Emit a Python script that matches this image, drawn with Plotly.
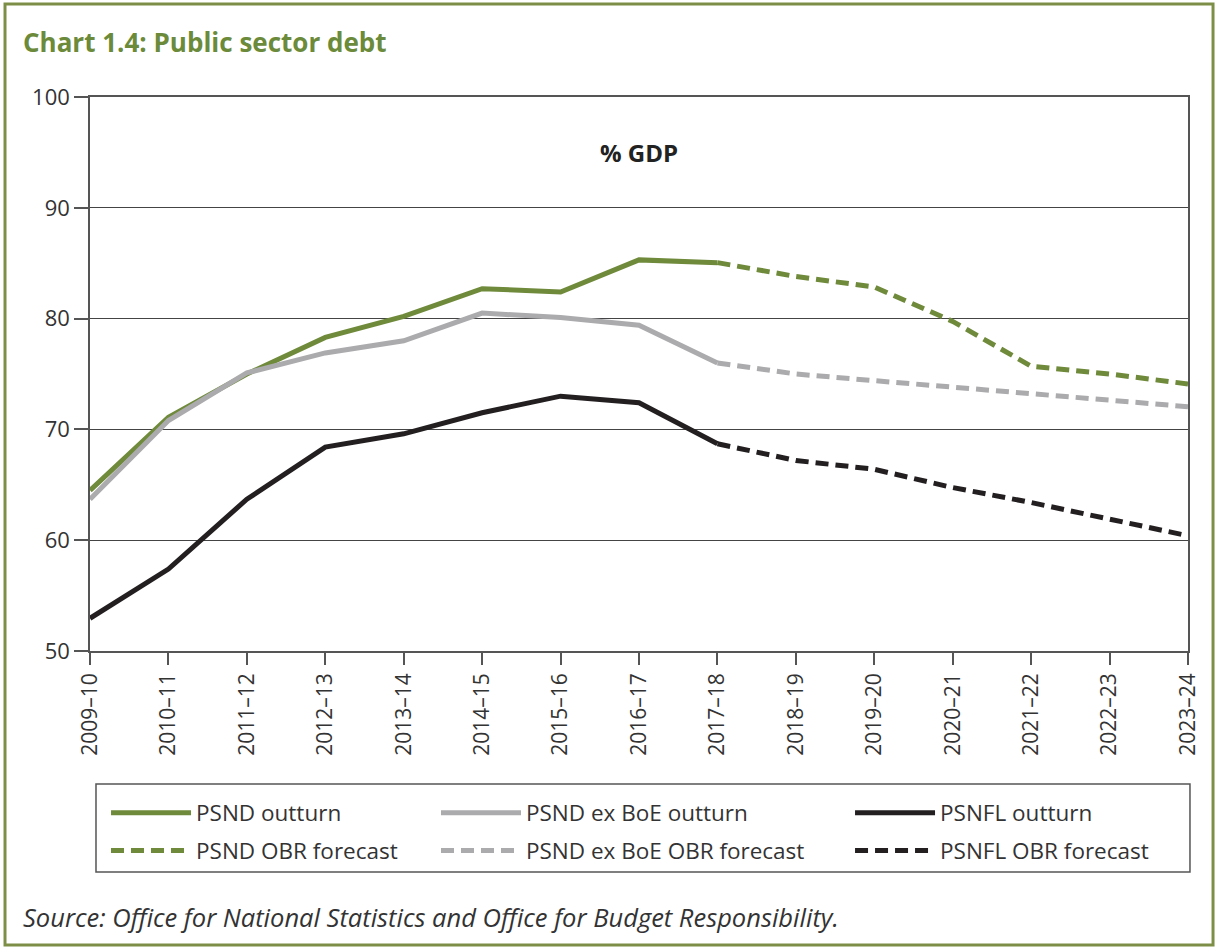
import plotly.graph_objects as go

years = ["2009–10", "2010–11", "2011–12", "2012–13", "2013–14", "2014–15", "2015–16",
         "2016–17", "2017–18", "2018–19", "2019–20", "2020–21", "2021–22", "2022–23", "2023–24"]

psnd = [64.5, 71.1, 75.0, 78.3, 80.2, 82.7, 82.4, 85.3, 85.05, 83.8, 82.85, 79.75, 75.7, 75.0, 74.1]
psnd_exboe = [63.7, 70.8, 75.1, 76.9, 78.0, 80.5, 80.1, 79.4, 76.0, 75.0, 74.4, 73.8, 73.3, 72.7, 72.05]
psnfl = [52.95, 57.4, 63.7, 68.4, 69.6, 71.5, 73.0, 72.4, 68.7, 67.2, 66.4, 64.75, 63.4, 61.9, 60.4]

split = 8  # index of 2017-18, first forecast year

GREEN = "#6F8A3A"
GREY = "#ABABAE"
BLACK = "#231F20"
FONT = "Open Sans"

fig = go.Figure()

series = [("PSND", psnd, GREEN), ("PSND ex BoE", psnd_exboe, GREY), ("PSNFL", psnfl, BLACK)]
legend_ids_out = ["legend", "legend2", "legend3"]
legend_ids_fc = ["legend4", "legend5", "legend6"]
for (name, vals, col), lg in zip(series, legend_ids_out):
    fig.add_trace(go.Scatter(
        x=years[:split + 1], y=vals[:split + 1], mode="lines",
        name=f"{name} outturn", line=dict(color=col, width=5), legend=lg))
for (name, vals, col), lg in zip(series, legend_ids_fc):
    fig.add_trace(go.Scatter(
        x=years[split:], y=vals[split:], mode="lines",
        name=f"{name} OBR forecast", line=dict(color=col, width=5, dash="13px,7px"), legend=lg))

col_x = [0.0146, 0.3151, 0.6922]
row_y = [-0.2925, -0.3610]
legend_common = dict(xanchor="left", yanchor="middle", bgcolor="rgba(0,0,0,0)", borderwidth=0,
                     itemwidth=80, font=dict(family=FONT, size=22.5, color="#333333"))
legends = {}
for i, lg in enumerate(legend_ids_out):
    legends[lg] = dict(x=col_x[i], y=row_y[0], **legend_common)
for i, lg in enumerate(legend_ids_fc):
    legends[lg] = dict(x=col_x[i], y=row_y[1], **legend_common)

fig.update_layout(
    width=1215, height=952,
    paper_bgcolor="white", plot_bgcolor="white",
    margin=dict(l=90, r=27, t=97, b=301),
    font=dict(family=FONT, color="#333333", size=21),
    showlegend=True,
    **legends,
    xaxis=dict(
        type="category", range=[0, 14], showgrid=False,
        showline=True, linecolor="#555555", linewidth=1.5, mirror=True,
        ticks="outside", ticklen=12, tickcolor="#555555", tickwidth=1.5,
        tickangle=-90, tickfont=dict(family=FONT, size=21, color="#333333"),
    ),
    yaxis=dict(
        range=[50, 100], dtick=10, tick0=50,
        showgrid=True, gridcolor="#444444", gridwidth=1,
        showline=True, linecolor="#555555", linewidth=1.5, mirror=True,
        ticks="outside", ticklen=14, tickcolor="#555555", tickwidth=1.5,
        tickfont=dict(family=FONT, size=22, color="#333333"), zeroline=False,
    ),
    annotations=[
        dict(text="<b>Chart 1.4: Public sector debt</b>", xref="paper", yref="paper",
             x=-0.0628, y=1.099, xanchor="left", yanchor="middle", showarrow=False,
             font=dict(family=FONT, size=26, color="#6B8A3A")),
        dict(text="<b>% GDP</b>", xref="paper", yref="paper",
             x=0.5, y=0.899, xanchor="center", yanchor="middle", showarrow=False,
             font=dict(family=FONT, size=24, color="#222222")),
        dict(text="<i>Source: Office for National Statistics and Office for Budget Responsibility.</i>",
             xref="paper", yref="paper", x=-0.0628, y=-0.480, xanchor="left", yanchor="middle",
             showarrow=False, font=dict(family=FONT, size=25.5, color="#333333")),
    ],
    shapes=[
        dict(type="rect", xref="paper", yref="paper", x0=-0.0774, x1=1.0228, y0=-0.5307, y1=1.168,
             line=dict(color="#7D8F46", width=3), layer="below"),
        dict(type="rect", xref="paper", yref="paper", x0=0.00546, x1=1.0018, y0=-0.3989, y1=-0.2401,
             line=dict(color="#555555", width=1.5), layer="below"),
    ],
)

fig.write_html("out.html", config={"displayModeBar": False},
               post_script="document.body.style.margin='0px';")
